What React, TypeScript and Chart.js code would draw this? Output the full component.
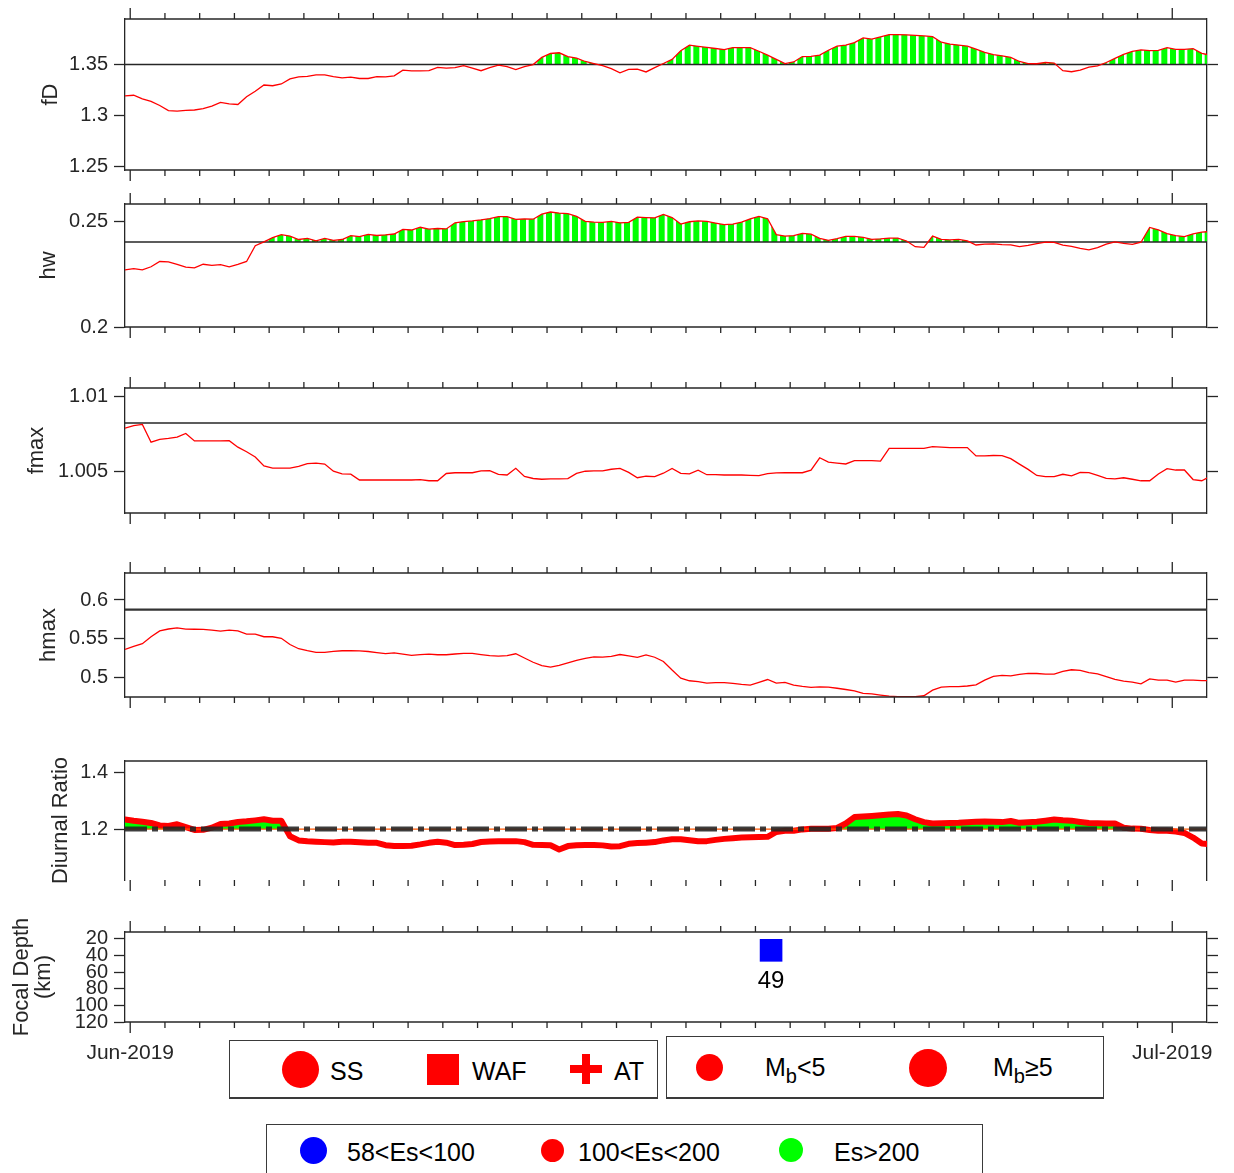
import React, { useEffect, useRef } from 'react';
import { Chart, registerables } from 'chart.js';

Chart.register(...registerables);

const FONT = '"Liberation Sans", Arial, Helvetica, sans-serif';
const INK = '#262626';
const RED = '#ff0000';
const GREEN = '#00ff00';
const PAGE_W = 1234;
const PAGE_H = 1173;
const AXIS_LEFT = 125;
const AXIS_RIGHT = 1207;

Chart.defaults.font.family = FONT;
Chart.defaults.color = INK;

// ---------- time axis: days after 1 Jun 2019 00:00, 6-hourly samples ----------
const T_FIRST = -0.15;
const T_STEP = 0.25;
const X_MIN = -0.15;
const X_MAX = 31;
const DAY_TICKS = [0, 1, 2, 3, 4, 5, 6, 7, 8, 9, 10, 11, 12, 13, 14, 15, 16, 17, 18, 19, 20, 21, 22, 23, 24, 25, 26, 27, 28, 29, 30];
const MONTH_TICKS = [0, 30];
const MONTH_LABELS = ['Jun-2019', 'Jul-2019'];

// ---------- fD ----------
const FD = [
  1.3195, 1.3200, 1.3165, 1.3140, 1.3100, 1.3050, 1.3045, 1.3052, 1.3056, 1.3070,
  1.3095, 1.3130, 1.3115, 1.3110, 1.3185, 1.3240, 1.3300, 1.3293, 1.3310, 1.3360,
  1.3380, 1.3385, 1.3400, 1.3400, 1.3383, 1.3370, 1.3377, 1.3364, 1.3364, 1.3383,
  1.3380, 1.3390, 1.3445, 1.3438, 1.3438, 1.3440, 1.3473, 1.3465, 1.3470, 1.3490,
  1.3465, 1.3440, 1.3470, 1.3494, 1.3480, 1.3450, 1.3480, 1.3500, 1.3570, 1.3608,
  1.3615, 1.3577, 1.3562, 1.3530, 1.3510, 1.3490, 1.3460, 1.3420, 1.3452, 1.3455,
  1.3428, 1.3470, 1.3510, 1.3550, 1.3635, 1.3690, 1.3678, 1.3667, 1.3657, 1.3645,
  1.3666, 1.3666, 1.3666, 1.3630, 1.3592, 1.3550, 1.3510, 1.3525, 1.3578, 1.3580,
  1.3592, 1.3640, 1.3680, 1.3690, 1.3715, 1.3760, 1.3748, 1.3770, 1.3793, 1.3793,
  1.3790, 1.3785, 1.3780, 1.3772, 1.3718, 1.3700, 1.3690, 1.3680, 1.3650, 1.3620,
  1.3598, 1.3585, 1.3570, 1.3530, 1.3510, 1.3508, 1.3520, 1.3514, 1.3440, 1.3430,
  1.3445, 1.3475, 1.3487, 1.3520, 1.3560, 1.3600, 1.3628, 1.3643, 1.3637, 1.3638,
  1.3665, 1.3648, 1.3648, 1.3655, 1.3610, 1.3590,
];
const FD_THRESHOLD = 1.35;
const FD_TICKS = [1.25, 1.3, 1.35];

// ---------- hw ----------
const HW = [
  0.2270, 0.2276, 0.2270, 0.2285, 0.2310, 0.2308, 0.2296, 0.2283, 0.2280, 0.2297,
  0.2292, 0.2295, 0.2285, 0.2296, 0.2310, 0.2385, 0.2403, 0.2423, 0.2437, 0.2430,
  0.2414, 0.2419, 0.2408, 0.2419, 0.2410, 0.2414, 0.2432, 0.2428, 0.2438, 0.2433,
  0.2436, 0.2440, 0.2462, 0.2459, 0.2472, 0.2463, 0.2466, 0.2464, 0.2493, 0.2499,
  0.2502, 0.2507, 0.2513, 0.2522, 0.2522, 0.2509, 0.2511, 0.2510, 0.2534, 0.2544,
  0.2539, 0.2536, 0.2523, 0.2500, 0.2496, 0.2495, 0.2500, 0.2493, 0.2495, 0.2520,
  0.2518, 0.2516, 0.2533, 0.2518, 0.2487, 0.2498, 0.2502, 0.2500, 0.2492, 0.2484,
  0.2487, 0.2496, 0.2512, 0.2523, 0.2512, 0.2437, 0.2430, 0.2432, 0.2443, 0.2439,
  0.2419, 0.2410, 0.2418, 0.2429, 0.2429, 0.2424, 0.2415, 0.2417, 0.2421, 0.2421,
  0.2407, 0.2380, 0.2377, 0.2430, 0.2415, 0.2412, 0.2415, 0.2407, 0.2388, 0.2392,
  0.2393, 0.2390, 0.2389, 0.2380, 0.2386, 0.2395, 0.2402, 0.2400, 0.2387, 0.2382,
  0.2372, 0.2365, 0.2376, 0.2392, 0.2403, 0.2396, 0.2391, 0.2401, 0.2471, 0.2460,
  0.2442, 0.2432, 0.2428, 0.2441, 0.2449, 0.2452,
];
const HW_THRESHOLD = 0.2402;
const HW_TICKS = [0.2, 0.25];

// ---------- fmax ----------
const FMAX = [
  1.00787, 1.00805, 1.00812, 1.00695, 1.00714, 1.00720, 1.00728, 1.00753, 1.00703, 1.00703,
  1.00703, 1.00704, 1.00705, 1.00662, 1.00632, 1.00597, 1.00538, 1.00524, 1.00524, 1.00524,
  1.00535, 1.00553, 1.00557, 1.00550, 1.00503, 1.00486, 1.00484, 1.00445, 1.00445, 1.00445,
  1.00445, 1.00445, 1.00445, 1.00445, 1.00448, 1.00440, 1.00440, 1.00488, 1.00493, 1.00493,
  1.00493, 1.00506, 1.00507, 1.00482, 1.00478, 1.00522, 1.00469, 1.00455, 1.00450, 1.00452,
  1.00453, 1.00454, 1.00489, 1.00503, 1.00505, 1.00505, 1.00516, 1.00522, 1.00495, 1.00460,
  1.00470, 1.00468, 1.00490, 1.00521, 1.00489, 1.00485, 1.00510, 1.00480, 1.00480, 1.00478,
  1.00478, 1.00478, 1.00476, 1.00474, 1.00487, 1.00492, 1.00493, 1.00493, 1.00493, 1.00510,
  1.00592, 1.00563, 1.00557, 1.00551, 1.00573, 1.00573, 1.00573, 1.00570, 1.00654, 1.00654,
  1.00654, 1.00654, 1.00654, 1.00665, 1.00662, 1.00659, 1.00659, 1.00659, 1.00604, 1.00605,
  1.00607, 1.00606, 1.00586, 1.00550, 1.00515, 1.00475, 1.00467, 1.00467, 1.00483, 1.00472,
  1.00496, 1.00494, 1.00475, 1.00456, 1.00452, 1.00460, 1.00450, 1.00440, 1.00440, 1.00485,
  1.00520, 1.00511, 1.00511, 1.00448, 1.00440, 1.00470,
];
const FMAX_THRESHOLD = 1.00822;
const FMAX_TICKS = [1.005, 1.01];

// ---------- hmax ----------
const HMAX = [
  0.5362, 0.5400, 0.5435, 0.5525, 0.5600, 0.5625, 0.5640, 0.5624, 0.5622, 0.5620,
  0.5610, 0.5598, 0.5610, 0.5600, 0.5560, 0.5560, 0.5525, 0.5525, 0.5505, 0.5425,
  0.5370, 0.5345, 0.5323, 0.5323, 0.5335, 0.5344, 0.5344, 0.5341, 0.5334, 0.5320,
  0.5307, 0.5317, 0.5300, 0.5285, 0.5294, 0.5300, 0.5292, 0.5292, 0.5302, 0.5310,
  0.5310, 0.5295, 0.5280, 0.5275, 0.5282, 0.5305, 0.5250, 0.5195, 0.5153, 0.5132,
  0.5155, 0.5188, 0.5220, 0.5245, 0.5265, 0.5262, 0.5272, 0.5295, 0.5278, 0.5258,
  0.5290, 0.5260, 0.5205, 0.5095, 0.4990, 0.4956, 0.4945, 0.4925, 0.4933, 0.4932,
  0.4923, 0.4910, 0.4900, 0.4935, 0.4972, 0.4925, 0.4935, 0.4900, 0.4882, 0.4870,
  0.4876, 0.4873, 0.4859, 0.4843, 0.4826, 0.4792, 0.4786, 0.4770, 0.4756, 0.4749,
  0.4749, 0.4752, 0.4762, 0.4835, 0.4873, 0.4879, 0.4879, 0.4888, 0.4902, 0.4965,
  0.5012, 0.5025, 0.5020, 0.5039, 0.5051, 0.5050, 0.5043, 0.5043, 0.5078, 0.5098,
  0.5090, 0.5062, 0.5045, 0.5010, 0.4974, 0.4950, 0.4939, 0.4915, 0.4979, 0.4965,
  0.4965, 0.4939, 0.4965, 0.4965, 0.4957, 0.4956,
];
const HMAX_THRESHOLD = 0.5875;
const HMAX_TICKS = [0.5, 0.55, 0.6];

// ---------- Diurnal ratio ----------
const DR = [
  1.234, 1.2295, 1.226, 1.222, 1.213, 1.211, 1.217, 1.207, 1.197, 1.1975,
  1.205, 1.218, 1.2201, 1.225, 1.2275, 1.231, 1.235, 1.2295, 1.2293, 1.175,
  1.160, 1.157, 1.1552, 1.154, 1.153, 1.155, 1.155, 1.1537, 1.1522, 1.1515,
  1.143, 1.1401, 1.1405, 1.1413, 1.146, 1.1515, 1.1552, 1.152, 1.1436, 1.145,
  1.1475, 1.1545, 1.1562, 1.1568, 1.1572, 1.1575, 1.154, 1.1445, 1.144, 1.1428,
  1.128, 1.140, 1.1432, 1.1435, 1.1436, 1.1425, 1.1385, 1.1398, 1.148, 1.1505,
  1.152, 1.1541, 1.160, 1.1642, 1.1645, 1.161, 1.157, 1.1575, 1.162, 1.1655,
  1.1677, 1.170, 1.1712, 1.1719, 1.1726, 1.190, 1.194, 1.194, 1.199, 1.201,
  1.201, 1.201, 1.204, 1.220, 1.2425, 1.2445, 1.2465, 1.249, 1.252, 1.2535,
  1.248, 1.235, 1.2247, 1.220, 1.221, 1.2215, 1.2225, 1.2245, 1.226, 1.227,
  1.226, 1.2248, 1.2288, 1.2222, 1.224, 1.226, 1.2298, 1.2342, 1.231, 1.230,
  1.2255, 1.2215, 1.2205, 1.2201, 1.2201, 1.205, 1.2018, 1.201, 1.197, 1.194,
  1.194, 1.1915, 1.1865, 1.170, 1.149, 1.147,
];
const DR_THRESHOLD = 1.2;
const DR_TICKS = [1.2, 1.4];

// ---------- earthquake ----------
const EVENT_DAYS = [18.45];
const EVENT_DEPTHS = [34];
const EVENT_LABELS = ['49'];
const DEPTH_TICKS = [20, 40, 60, 80, 100, 120];

// ---------- helpers ----------
const toPoints = (vals: number[]) => vals.map((v, i) => ({ x: T_FIRST + i * T_STEP, y: v }));
const level = (v: number) => [{ x: X_MIN, y: v }, { x: X_MAX, y: v }];

function stripePattern(ctx: CanvasRenderingContext2D) {
  const c = document.createElement('canvas');
  c.width = 26;
  c.height = 4;
  const g = c.getContext('2d')!;
  g.fillStyle = '#ffffff';
  g.fillRect(0, 0, 26, 4);
  g.fillStyle = GREEN;
  [0, 8.667, 17.333].forEach((s) => g.fillRect(s, 0, 6, 4));
  return ctx.createPattern(c, 'repeat');
}

const redLine = (vals: number[], fill: any = false) => ({
  data: toPoints(vals),
  yAxisID: 'y',
  borderColor: RED,
  borderWidth: 1.3,
  pointRadius: 0,
  tension: 0,
  fill,
  order: 0,
});

const levelLine = (v: number, width = 1.3, color = INK) => ({
  data: level(v),
  yAxisID: 'y',
  borderColor: color,
  borderWidth: width,
  pointRadius: 0,
  fill: false,
  order: 1,
});

type PanelSpec = {
  top: number;
  height: number;
  padTop: number;
  padBottom: number;
  yMin: number;
  yMax: number;
  yTicks: number[];
  reverse?: boolean;
  title: string[];
  titleX: number[];
  titleSize: number;
  rightTicks: boolean;
  topTicks: boolean;
  bottomTicks: boolean;
  topBorder: boolean;
  bottomBorder: boolean;
  monthLabels?: boolean;
  datasets: (ctx: CanvasRenderingContext2D) => any[];
  extraPlugins?: any[];
};

const makeFramePlugin = (spec: PanelSpec) => ({
  id: 'frame',
  afterDatasetsDraw(chart: any) {
    const { ctx, chartArea } = chart;
    const { left, right, top, bottom } = chartArea;
    const xs = chart.scales.x;
    ctx.save();
    ctx.strokeStyle = INK;
    ctx.lineWidth = 1.3;
    const seg = (x1: number, y1: number, x2: number, y2: number) => {
      ctx.beginPath();
      ctx.moveTo(x1, y1);
      ctx.lineTo(x2, y2);
      ctx.stroke();
    };
    if (spec.topBorder) seg(left, top, right, top);
    if (spec.bottomBorder) seg(left, bottom, right, bottom);
    DAY_TICKS.forEach((d) => {
      const px = xs.getPixelForValue(d);
      if (px < left - 0.5 || px > right - 1) return;
      const len = MONTH_TICKS.includes(d) ? 11 : 6;
      if (spec.topTicks) seg(px, top, px, top - len);
      if (spec.bottomTicks) seg(px, bottom, px, bottom + len);
    });
    ctx.restore();
  },
});

const makeTitlePlugin = (spec: PanelSpec) => ({
  id: 'yTitle',
  afterDraw(chart: any) {
    const { ctx, chartArea } = chart;
    const cy = (chartArea.top + chartArea.bottom) / 2;
    ctx.save();
    ctx.fillStyle = INK;
    ctx.font = `${spec.titleSize}px ${FONT}`;
    ctx.textAlign = 'center';
    ctx.textBaseline = 'middle';
    spec.title.forEach((t, i) => {
      ctx.save();
      ctx.translate(spec.titleX[i], cy);
      ctx.rotate(-Math.PI / 2);
      ctx.fillText(t, 0, 0);
      ctx.restore();
    });
    ctx.restore();
  },
});

const eventLabelPlugin = {
  id: 'eventLabels',
  afterDatasetsDraw(chart: any) {
    const { ctx } = chart;
    const meta = chart.getDatasetMeta(0);
    ctx.save();
    ctx.fillStyle = '#000000';
    ctx.font = `24px ${FONT}`;
    ctx.textAlign = 'center';
    ctx.textBaseline = 'middle';
    meta.data.forEach((pt: any, i: number) => {
      ctx.fillText(EVENT_LABELS[i], pt.x, pt.y + 31);
    });
    ctx.restore();
  },
};

const noPad = (s: any) => {
  s.paddingTop = 0;
  s.paddingBottom = 0;
  s.paddingLeft = 0;
  s.paddingRight = 0;
};

function buildConfig(spec: PanelSpec, ctx: CanvasRenderingContext2D): any {
  const yBase = {
    type: 'linear',
    min: spec.yMin,
    max: spec.yMax,
    reverse: !!spec.reverse,
    afterBuildTicks: (s: any) => {
      s.ticks = spec.yTicks.map((v) => ({ value: v }));
    },
  };
  const xScale = spec.monthLabels
    ? {
        type: 'linear',
        min: X_MIN,
        max: X_MAX,
        position: 'bottom',
        afterBuildTicks: (s: any) => {
          s.ticks = MONTH_TICKS.map((v) => ({ value: v }));
        },
        afterFit: (s: any) => {
          s.height = 53;
          noPad(s);
        },
        ticks: {
          autoSkip: false,
          maxRotation: 0,
          minRotation: 0,
          padding: 19,
          color: INK,
          font: { size: 21, family: FONT },
          callback: (v: any) => MONTH_LABELS[MONTH_TICKS.indexOf(Number(v))],
        },
        grid: { display: false, drawTicks: false },
        border: { display: false },
      }
    : { type: 'linear', min: X_MIN, max: X_MAX, display: false };
  return {
    type: 'line',
    data: { datasets: spec.datasets(ctx) },
    options: {
      responsive: false,
      animation: false,
      events: [],
      layout: { padding: { top: spec.padTop, bottom: spec.padBottom, left: 0, right: 0 } },
      plugins: {
        legend: { display: false },
        tooltip: { enabled: false },
        filler: { drawTime: 'beforeDatasetsDraw' },
      },
      scales: {
        x: xScale,
        y: {
          ...yBase,
          position: 'left',
          afterFit: (s: any) => {
            s.width = AXIS_LEFT;
            noPad(s);
          },
          ticks: {
            autoSkip: false,
            padding: 6,
            color: INK,
            font: { size: 20, family: FONT },
            callback: (v: any) => String(v),
          },
          grid: { display: true, drawOnChartArea: false, drawTicks: true, tickLength: 11, tickColor: INK, tickWidth: 1.3 },
          border: { display: true, color: INK, width: 1.3 },
        },
        y2: {
          ...yBase,
          position: 'right',
          afterFit: (s: any) => {
            s.width = PAGE_W - AXIS_RIGHT;
            noPad(s);
          },
          ticks: { display: false },
          grid: { display: true, drawOnChartArea: false, drawTicks: spec.rightTicks, tickLength: 11, tickColor: INK, tickWidth: 1.3 },
          border: { display: true, color: INK, width: 1.3 },
        },
      },
    },
    plugins: [makeFramePlugin(spec), makeTitlePlugin(spec), ...(spec.extraPlugins || [])],
  };
}

const PANELS: PanelSpec[] = [
  {
    top: 5, height: 179, padTop: 14, padBottom: 14,
    yMin: 1.247, yMax: 1.3945, yTicks: FD_TICKS,
    title: ['fD'], titleX: [51], titleSize: 22,
    rightTicks: true, topTicks: true, bottomTicks: true, topBorder: true, bottomBorder: true,
    datasets: (ctx) => [
      redLine(FD, { target: { value: FD_THRESHOLD }, above: stripePattern(ctx), below: 'rgba(0,0,0,0)' }),
      levelLine(FD_THRESHOLD, 1.4),
    ],
  },
  {
    top: 190, height: 151, padTop: 14, padBottom: 14,
    yMin: 0.2, yMax: 0.2582, yTicks: HW_TICKS,
    title: ['hw'], titleX: [49], titleSize: 22,
    rightTicks: true, topTicks: true, bottomTicks: true, topBorder: true, bottomBorder: true,
    datasets: (ctx) => [
      redLine(HW, { target: { value: HW_THRESHOLD }, above: stripePattern(ctx), below: 'rgba(0,0,0,0)' }),
      levelLine(HW_THRESHOLD, 1.4),
    ],
  },
  {
    top: 374, height: 153, padTop: 14, padBottom: 14,
    yMin: 1.00227, yMax: 1.01053, yTicks: FMAX_TICKS,
    title: ['fmax'], titleX: [37], titleSize: 22,
    rightTicks: true, topTicks: true, bottomTicks: true, topBorder: true, bottomBorder: true,
    datasets: () => [redLine(FMAX), levelLine(FMAX_THRESHOLD, 1.6)],
  },
  {
    top: 559, height: 152, padTop: 14, padBottom: 14,
    yMin: 0.4746, yMax: 0.6349, yTicks: HMAX_TICKS,
    title: ['hmax'], titleX: [49], titleSize: 22,
    rightTicks: true, topTicks: true, bottomTicks: true, topBorder: true, bottomBorder: true,
    datasets: () => [redLine(HMAX), levelLine(HMAX_THRESHOLD, 2.2, '#333333')],
  },
  {
    top: 747, height: 147, padTop: 14, padBottom: 14,
    yMin: 1.02, yMax: 1.441, yTicks: DR_TICKS,
    title: ['Diurnal Ratio'], titleX: [61], titleSize: 22,
    rightTicks: false, topTicks: false, bottomTicks: true, topBorder: true, bottomBorder: false,
    datasets: () => [
      {
        data: toPoints(DR),
        yAxisID: 'y',
        borderColor: RED,
        borderWidth: 6,
        borderJoinStyle: 'round',
        borderCapStyle: 'round',
        pointRadius: 0,
        tension: 0,
        fill: { target: { value: DR_THRESHOLD }, above: GREEN, below: 'rgba(0,0,0,0)' },
        order: 2,
      },
      { ...levelLine(DR_THRESHOLD, 1.2, '#ff5500'), order: 1 },
      { ...levelLine(DR_THRESHOLD, 5, 'rgba(35,35,35,0.88)'), borderDash: [22, 5, 6, 5], order: 0 },
    ],
  },
  {
    top: 905, height: 170, padTop: 27, padBottom: 0,
    yMin: 12, yMax: 120, yTicks: DEPTH_TICKS, reverse: true,
    title: ['Focal Depth', '(km)'], titleX: [22, 44], titleSize: 22,
    rightTicks: true, topTicks: true, bottomTicks: true, topBorder: true, bottomBorder: true,
    monthLabels: true,
    datasets: () => [
      {
        data: EVENT_DAYS.map((d, i) => ({ x: d, y: EVENT_DEPTHS[i] })),
        yAxisID: 'y',
        showLine: false,
        pointStyle: 'rect',
        pointRadius: 16,
        pointBackgroundColor: '#0000ff',
        pointBorderColor: '#0000ff',
        pointBorderWidth: 0,
      },
    ],
    extraPlugins: [eventLabelPlugin],
  },
];

function Panel({ spec }: { spec: PanelSpec }) {
  const ref = useRef<HTMLCanvasElement>(null);
  useEffect(() => {
    const canvas = ref.current;
    if (!canvas) return;
    const ctx = canvas.getContext('2d')!;
    const chart = new Chart(ctx, buildConfig(spec, ctx));
    return () => chart.destroy();
  }, [spec]);
  return (
    <canvas
      ref={ref}
      width={PAGE_W}
      height={spec.height}
      style={{ position: 'absolute', left: 0, top: spec.top, width: PAGE_W, height: spec.height }}
    />
  );
}

const boxStyle = (left: number, top: number, width: number, height: number): React.CSSProperties => ({
  position: 'absolute',
  left,
  top,
  width,
  height,
  border: '1.5px solid #3a3a3a',
  borderBottomWidth: 2.5,
  boxSizing: 'border-box',
  background: '#ffffff',
});

const dot = (cx: number, cy: number, d: number, color: string): React.CSSProperties => ({
  position: 'absolute',
  left: cx - d / 2,
  top: cy - d / 2,
  width: d,
  height: d,
  borderRadius: '50%',
  background: color,
});

const txt = (left: number, cy: number): React.CSSProperties => ({
  position: 'absolute',
  left,
  top: cy - 15,
  height: 30,
  lineHeight: '30px',
  fontSize: 25,
  fontFamily: FONT,
  color: '#000',
  whiteSpace: 'nowrap',
});

function Legends() {
  return (
    <>
      <div style={boxStyle(229, 1040, 429, 59)} />
      <div style={dot(300, 1069.5, 37, RED)} />
      <div style={txt(330, 1071)}>SS</div>
      <div style={{ position: 'absolute', left: 427, top: 1054, width: 32, height: 31, background: RED }} />
      <div style={txt(472, 1071)}>WAF</div>
      <div style={{ position: 'absolute', left: 570, top: 1065, width: 32, height: 8, background: RED }} />
      <div style={{ position: 'absolute', left: 582, top: 1054, width: 8, height: 30, background: RED }} />
      <div style={txt(614, 1071)}>AT</div>

      <div style={boxStyle(666, 1036, 438, 63)} />
      <div style={dot(709.5, 1067.5, 27, RED)} />
      <div style={txt(765, 1067)}>
        M<span style={{ fontSize: 20, position: 'relative', top: 7 }}>b</span>&lt;5
      </div>
      <div style={dot(928, 1067.5, 38, RED)} />
      <div style={txt(993, 1067)}>
        M<span style={{ fontSize: 20, position: 'relative', top: 7 }}>b</span>≥5
      </div>

      <div style={boxStyle(266, 1124, 717, 80)} />
      <div style={dot(313, 1150, 27, '#0000ff')} />
      <div style={txt(347, 1152)}>58&lt;Es&lt;100</div>
      <div style={dot(552, 1150, 23, RED)} />
      <div style={txt(578, 1152)}>100&lt;Es&lt;200</div>
      <div style={dot(791, 1150, 24, GREEN)} />
      <div style={txt(834, 1152)}>Es&gt;200</div>
    </>
  );
}

export default function App() {
  return (
    <div
      style={{
        position: 'absolute',
        left: 0,
        top: 0,
        width: PAGE_W,
        height: PAGE_H,
        overflow: 'hidden',
        background: '#ffffff',
      }}
    >
      {PANELS.map((p, i) => (
        <Panel key={i} spec={p} />
      ))}
      <Legends />
    </div>
  );
}
